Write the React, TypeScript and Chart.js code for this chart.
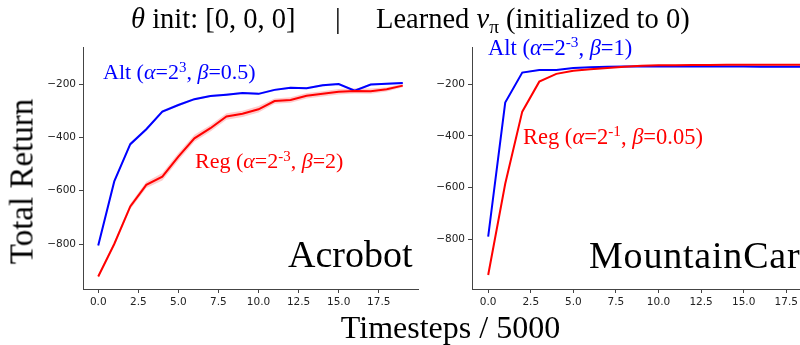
import React, { useEffect, useRef } from "react";
import { Chart, registerables } from "chart.js";
Chart.register(...registerables);

// ---------- data ----------
const STEPS = [0, 1, 2, 3, 4, 5, 6, 7, 8, 9, 10, 11, 12, 13, 14, 15, 16, 17, 18, 19];
const X_TICKS = [0, 2.5, 5, 7.5, 10, 12.5, 15, 17.5];
const Y_TICKS = [-800, -600, -400, -200];

const ACRO_ALT = [-806, -565, -425, -369, -303, -278, -256, -244, -239, -233, -236, -221, -213, -215, -204, -199, -224, -201, -198, -195];
const ACRO_ALT_ERR = [6, 6, 6, 6, 5, 5, 4, 4, 4, 4, 4, 4, 4, 4, 4, 4, 4, 4, 4, 4];
const ACRO_REG = [-922, -800, -659, -578, -547, -472, -403, -365, -321, -311, -294, -263, -259, -243, -236, -228, -225, -226, -219, -205];
const ACRO_REG_ERR = [6, 8, 10, 12, 14, 14, 13, 12, 12, 12, 12, 10, 10, 10, 10, 10, 10, 10, 8, 6];

const MC_ALT = [-789, -271, -155, -145, -145, -137, -134, -132, -131, -131, -131, -131, -131, -131, -131, -131, -132, -132, -132, -132];
const MC_ALT_ERR = [4, 4, 3, 2, 2, 2, 2, 2, 2, 2, 2, 2, 2, 2, 2, 2, 2, 2, 2, 2];
const MC_REG = [-938, -585, -306, -190, -160, -148, -142, -137, -132, -129, -127, -127, -126, -126, -125, -125, -125, -125, -125, -125];
const MC_REG_ERR = [4, 4, 3, 2, 2, 2, 2, 2, 2, 2, 2, 2, 2, 2, 2, 2, 2, 2, 2, 2];

const BLUE = "#0000ff";
const RED = "#ff0000";
const SPINE = "#444";
const SERIF = "'Liberation Serif', 'DejaVu Serif', serif";

type PanelProps = {
  canvasWidth: number;
  padLeft: number;
  padRight: number;
  yMin: number;
  yMax: number;
  alt: number[];
  altErr: number[];
  reg: number[];
  regErr: number[];
};

const Y_AXIS_W = 45;
const X_AXIS_H = 30;
const PAD_TOP = 47;
const PAD_BOTTOM = 345 - 289 - X_AXIS_H;

function Panel(p: PanelProps) {
  const ref = useRef<HTMLCanvasElement>(null);
  useEffect(() => {
    if (!ref.current) return;
    const pts = (vals: number[]) => STEPS.map((s, i) => ({ x: s, y: vals[i] }));
    const upper = (v: number[], e: number[]) => v.map((y, i) => y + e[i]);
    const lower = (v: number[], e: number[]) => v.map((y, i) => y - e[i]);
    const line = (vals: number[], color: string) => ({
      data: pts(vals),
      borderColor: color,
      borderWidth: 2,
      pointRadius: 0,
      fill: false,
      tension: 0,
    });
    const band = (vals: number[], fillTo: any, bg: string) => ({
      data: pts(vals),
      borderColor: "transparent",
      borderWidth: 1,
      pointRadius: 0,
      fill: fillTo,
      backgroundColor: bg,
      tension: 0,
    });
    const chart = new Chart(ref.current, {
      type: "line",
      data: {
        datasets: [
          line(p.reg, RED),
          line(p.alt, BLUE),
          band(upper(p.reg, p.regErr), "+1", "rgba(255,0,0,0.2)"),
          band(lower(p.reg, p.regErr), false, "rgba(255,0,0,0.2)"),
          band(upper(p.alt, p.altErr), "+1", "rgba(0,0,255,0.2)"),
          band(lower(p.alt, p.altErr), false, "rgba(0,0,255,0.2)"),
        ] as any,
      },
      options: {
        animation: false,
        responsive: false,
        devicePixelRatio: 1,
        layout: { padding: { left: p.padLeft, right: p.padRight, top: PAD_TOP, bottom: PAD_BOTTOM } },
        plugins: { legend: { display: false }, tooltip: { enabled: false } },
        scales: {
          x: {
            type: "linear",
            min: -0.95,
            max: 19.95,
            afterBuildTicks: (s: any) => {
              s.ticks = X_TICKS.map((v) => ({ value: v }));
            },
            afterFit: (s: any) => {
              s.height = X_AXIS_H;
            },
            grid: { drawOnChartArea: false, drawTicks: true, tickLength: 4, color: SPINE, tickWidth: 1 },
            border: { display: true, color: SPINE, width: 1 },
            ticks: {
              font: { family: "'DejaVu Sans', sans-serif", size: 10.5 },
              color: "#222",
              padding: 3,
              maxRotation: 0,
              autoSkip: false,
              callback: (v: any) => Number(v).toFixed(1),
            },
          },
          y: {
            type: "linear",
            min: p.yMin,
            max: p.yMax,
            afterBuildTicks: (s: any) => {
              s.ticks = Y_TICKS.map((v) => ({ value: v }));
            },
            afterFit: (s: any) => {
              s.width = Y_AXIS_W;
            },
            grid: { drawOnChartArea: false, drawTicks: true, tickLength: 4, color: SPINE, tickWidth: 1 },
            border: { display: true, color: SPINE, width: 1 },
            ticks: {
              font: { family: "'DejaVu Sans', sans-serif", size: 10.5 },
              color: "#222",
              padding: 3,
              autoSkip: false,
              callback: (v: any) => (Number(v) < 0 ? "\u2212" + Math.abs(Number(v)) : String(v)),
            },
          },
        },
      } as any,
    });
    return () => chart.destroy();
  }, []);
  return (
    <canvas
      ref={ref}
      width={p.canvasWidth}
      height={345}
      style={{ position: "absolute", left: 0, top: 0, width: p.canvasWidth, height: 345 }}
    />
  );
}

function Txt(props: { left: number; baseline: number; size: number; color?: string; children: any; style?: any }) {
  const top = props.baseline - 0.8375 * props.size;
  return (
    <div
      style={{
        position: "absolute",
        left: props.left,
        top,
        fontFamily: SERIF,
        fontSize: props.size,
        lineHeight: 1,
        whiteSpace: "nowrap",
        color: props.color || "#000",
        ...(props.style || {}),
      }}
    >
      {props.children}
    </div>
  );
}

const supStyle = { fontSize: "0.68em", verticalAlign: "0.5em", lineHeight: 0 };
const subStyle = { fontSize: "0.68em", verticalAlign: "-0.25em", lineHeight: 0 };
const I = (s: string) => <i>{s}</i>;

export default function App() {
  return (
    <div
      style={{
        position: "fixed",
        left: 0,
        top: 0,
        width: 800,
        height: 345,
        overflow: "hidden",
        background: "#fff",
      }}
    >
      <Panel canvasWidth={800} padLeft={83 - Y_AXIS_W} padRight={800 - 418} yMin={-969} yMax={-60}
        alt={ACRO_ALT} altErr={ACRO_ALT_ERR} reg={ACRO_REG} regErr={ACRO_REG_ERR} />
      <Panel canvasWidth={900} padLeft={472 - Y_AXIS_W} padRight={900 - 828} yMin={-992} yMax={-56}
        alt={MC_ALT} altErr={MC_ALT_ERR} reg={MC_REG} regErr={MC_REG_ERR} />

      {/* title */}
      <Txt left={131} baseline={29} size={28.5}>{I("θ")} init: [0, 0, 0]</Txt>
      <Txt left={335} baseline={29} size={28.5}>|</Txt>
      <Txt left={376} baseline={29} size={28.5}>
        Learned {I("v")}<span style={subStyle}>π</span> (initialized to 0)
      </Txt>

      {/* y label */}
      <div
        style={{
          position: "absolute",
          left: 22 - 100,
          top: 181 - 16.5,
          width: 200,
          height: 33,
          lineHeight: 1,
          fontSize: 33,
          fontFamily: SERIF,
          textAlign: "center",
          transform: "rotate(-90deg)",
          whiteSpace: "nowrap",
        }}
      >
        Total Return
      </div>

      {/* x label */}
      <div
        style={{
          position: "absolute",
          left: 300.5,
          top: 338 - 0.8375 * 32,
          width: 300,
          textAlign: "center",
          fontSize: 32,
          lineHeight: 1,
          fontFamily: SERIF,
          whiteSpace: "nowrap",
        }}
      >
        Timesteps / 5000
      </div>

      {/* panel names */}
      <Txt left={288} baseline={267} size={38}>Acrobot</Txt>
      <Txt left={589} baseline={268} size={38} style={{ letterSpacing: "0.8px" }}>MountainCar</Txt>

      {/* annotations */}
      <Txt left={103} baseline={79} size={22} color={BLUE}>
        Alt ({I("α")}=2<span style={supStyle}>3</span>, {I("β")}=0.5)
      </Txt>
      <Txt left={195} baseline={168} size={22} color={RED}>
        Reg ({I("α")}=2<span style={supStyle}>-3</span>, {I("β")}=2)
      </Txt>
      <Txt left={488} baseline={56} size={22.5} color={BLUE}>
        Alt ({I("α")}=2<span style={supStyle}>-3</span>, {I("β")}=1)
      </Txt>
      <Txt left={523} baseline={145} size={22.5} color={RED}>
        Reg ({I("α")}=2<span style={supStyle}>-1</span>, {I("β")}=0.05)
      </Txt>
    </div>
  );
}
